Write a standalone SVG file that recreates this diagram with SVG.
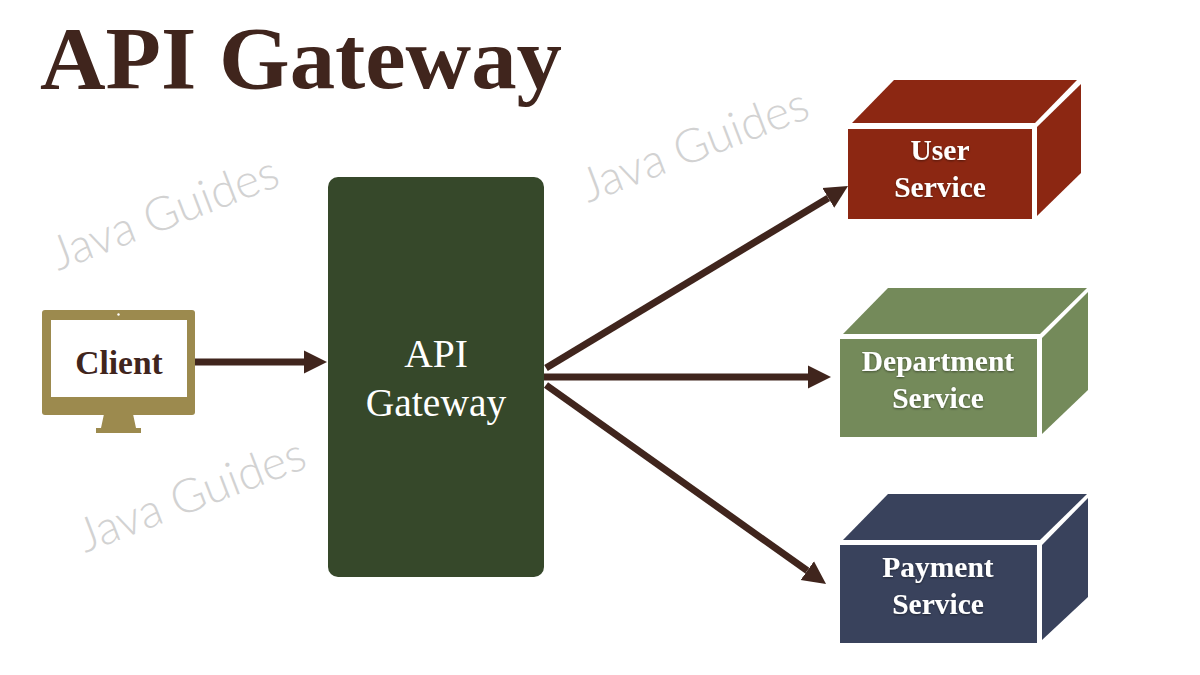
<svg xmlns="http://www.w3.org/2000/svg" width="1200" height="675" viewBox="0 0 1200 675">
<style>
text{font-family:"Liberation Serif","Times New Roman",serif;text-anchor:middle}
.title{font-size:88px;font-weight:700;fill:#40251d;text-anchor:start}
.svc{font-size:29.500px;font-weight:700;fill:#fff;filter:url(#ts)}
.gw{font-size:39.500px;fill:#fff}
.client{font-size:33.500px;font-weight:700;fill:#40251d}
.wm{font-family:Lato,"Noto Sans",sans-serif;font-weight:300;font-size:47px;fill:#d2d2d2;text-anchor:start}
.conn{stroke:#40251d;stroke-width:7;fill:none;marker-end:url(#head)}
</style>
<defs>
<marker id="head" markerUnits="userSpaceOnUse" markerWidth="24" markerHeight="24" refX="0" refY="12" orient="auto"><path d="M0 .5L23 12L0 23.500Z" fill="#40251d"/></marker>
<filter id="ts" x="-10%" y="-10%" width="120%" height="130%"><feDropShadow dx="0" dy="1" stdDeviation="1" flood-color="#000" flood-opacity=".45"/></filter>
</defs>
<rect width="1200" height="675" fill="#fff"/>
<text class="title" x="40" y="88" textLength="522" lengthAdjust="spacingAndGlyphs">API Gateway</text>
<g id="watermarks">
<text class="wm" transform="translate(58 271) rotate(-21)" textLength="240" lengthAdjust="spacingAndGlyphs">Java Guides</text>
<text class="wm" transform="translate(588 203) rotate(-21)" textLength="240" lengthAdjust="spacingAndGlyphs">Java Guides</text>
<text class="wm" transform="translate(85 553) rotate(-21)" textLength="240" lengthAdjust="spacingAndGlyphs">Java Guides</text>
</g>
<g id="connectors">
<line class="conn" x1="195" y1="362" x2="304" y2="362"/>
<line class="conn" x1="546" y1="368" x2="828.3" y2="197.9"/>
<line class="conn" x1="538" y1="377" x2="808" y2="377"/>
<line class="conn" x1="546" y1="385" x2="807.3" y2="570.7"/>
</g>
<g id="client">
<path fill="#9c8a4e" d="M104 414h29l3 14h5v5H96v-5h5z"/>
<rect x="42" y="310" width="153" height="105" rx="3" fill="#9c8a4e"/>
<rect x="51" y="320" width="136" height="77" fill="#fff"/>
<circle cx="118.500" cy="314.500" r="1.200" fill="#fff"/>
<text class="client" x="119" y="374">Client</text>
</g>
<g id="api-gateway">
<rect x="328" y="177" width="216" height="400" rx="10" fill="#36482a"/>
<text class="gw" x="436" y="367">API</text>
<text class="gw" x="436" y="416">Gateway</text>
</g>
<g id="user-service" fill="#8c2712">
<path d="M852 123L894 80H1077L1035 123Z"/>
<path d="M1037 127L1081 84V173L1037 216Z"/>
<rect x="848" y="129" width="184" height="90"/>
<text class="svc" x="940" y="160">User</text>
<text class="svc" x="940" y="197">Service</text>
</g>
<g id="department-service" fill="#748a5a">
<path d="M843 334L888 288H1087L1040 334Z"/>
<path d="M1042 338L1088 292V390L1042 434Z"/>
<rect x="840" y="339" width="197" height="98"/>
<text class="svc" x="938" y="371">Department</text>
<text class="svc" x="938" y="408">Service</text>
</g>
<g id="payment-service" fill="#39425c">
<path d="M843 540L888 494H1087L1040 540Z"/>
<path d="M1042 545L1088 498V597L1042 640Z"/>
<rect x="840" y="545" width="197" height="98"/>
<text class="svc" x="938" y="577">Payment</text>
<text class="svc" x="938" y="614">Service</text>
</g>
</svg>
